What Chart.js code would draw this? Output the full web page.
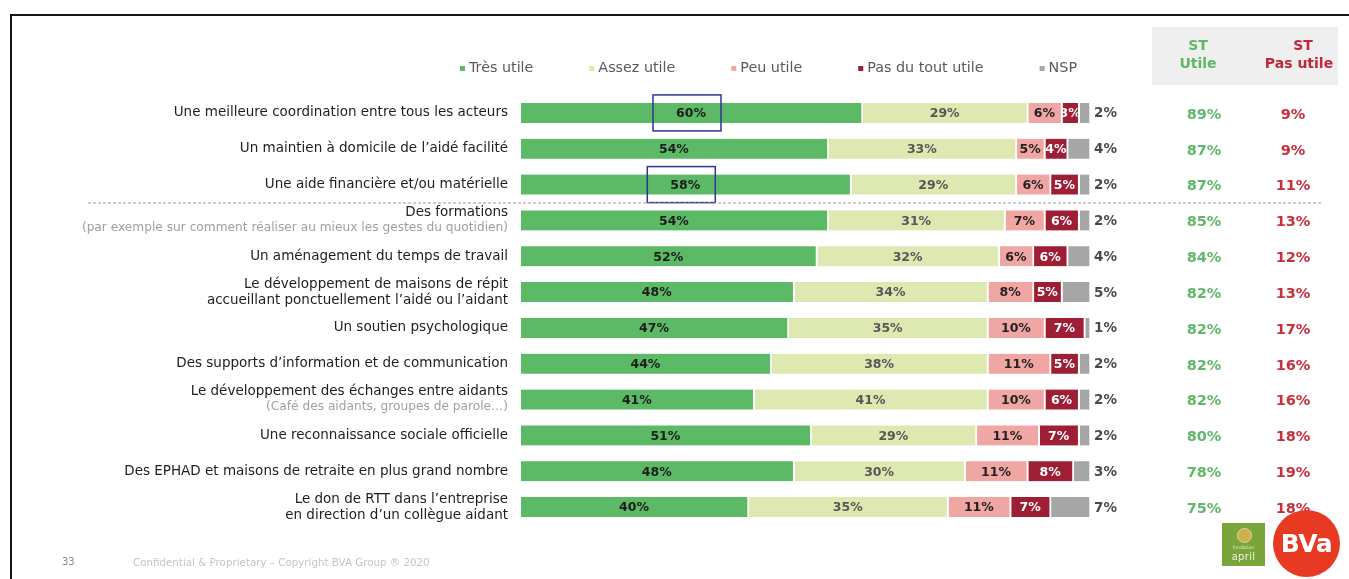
<!DOCTYPE html>
<html>
<head>
<meta charset="utf-8">
<script src="https://cdn.jsdelivr.net/npm/chart.js@4.4.1/dist/chart.umd.min.js"></script>
<style>
html,body{margin:0;padding:0;background:#fff;overflow:hidden;font-family:"DejaVu Sans",Verdana,sans-serif}
#wrap{position:relative;width:1349px;height:579px;overflow:hidden}
#frame{position:absolute;left:10px;top:14px;width:1400px;height:600px;border-top:2px solid #161616;border-left:2px solid #161616}
#c{position:absolute;left:0;top:0}
#pageno{position:absolute;left:62px;top:556px;font-size:10px;color:#8a8a8a}
#copy{position:absolute;left:133px;top:556px;font-size:10.3px;color:#c4c4c4}
#april{position:absolute;left:1222px;top:523px;width:43px;height:43px;background:#7aa53a;color:#e8f0d0;text-align:center}
#april .emb{position:absolute;left:15px;top:5px;width:13px;height:13px;border-radius:50%;background:#c9b24a;border:1px solid #e2d79a}
#april .f{position:absolute;left:0;width:43px;top:22px;font-size:4.5px;color:#dfe9c8}
#april .a{position:absolute;left:0;width:43px;top:28px;font-size:10px;color:#eef4de;letter-spacing:0.3px}
#bva{position:absolute;left:1273px;top:510px;width:67px;height:67px;border-radius:50%;background:#e83a22;color:#fff;font-weight:bold;font-size:25px;line-height:67px;text-align:center;letter-spacing:-0.5px}
</style>
</head>
<body>
<div id="wrap">
  <div id="frame"></div>
  <canvas id="c" width="1349" height="579"></canvas>
  <div id="pageno">33</div>
  <div id="copy">Confidential &amp; Proprietary – Copyright BVA Group ® 2020</div>
  <div id="april"><div class="emb"></div><div class="f">fondation</div><div class="a">april</div></div>
  <div id="bva">BVa</div>
</div>
<script>
// ---------- DATA ----------
const categories = [
  "Une meilleure coordination entre tous les acteurs",
  "Un maintien à domicile de l’aidé facilité",
  "Une aide financière et/ou matérielle",
  "Des formations",
  "Un aménagement du temps de travail",
  ["Le développement de maisons de répit", "accueillant ponctuellement l’aidé ou l’aidant"],
  "Un soutien psychologique",
  "Des supports d’information et de communication",
  "Le développement des échanges entre aidants",
  "Une reconnaissance sociale officielle",
  "Des EPHAD et maisons de retraite en plus grand nombre",
  ["Le don de RTT dans l’entreprise", "en direction d’un collègue aidant"]
];
const subLabels = [
  "", "", "",
  "(par exemple sur comment réaliser au mieux les gestes du quotidien)",
  "", "", "", "",
  "(Café des aidants, groupes de parole…)",
  "", "", ""
];
const seriesNames = ["Très utile", "Assez utile", "Peu utile", "Pas du tout utile", "NSP"];
const tresUtile     = [60, 54, 58, 54, 52, 48, 47, 44, 41, 51, 48, 40];
const assezUtile    = [29, 33, 29, 31, 32, 34, 35, 38, 41, 29, 30, 35];
const peuUtile      = [6, 5, 6, 7, 6, 8, 10, 11, 10, 11, 11, 11];
const pasDuToutUtile= [3, 4, 5, 6, 6, 5, 7, 5, 6, 7, 8, 7];
const nsp           = [2, 4, 2, 2, 4, 5, 1, 2, 2, 2, 3, 7];
const stUtile       = [89, 87, 87, 85, 84, 82, 82, 82, 82, 80, 78, 75];
const stPasUtile    = [9, 9, 11, 13, 12, 13, 17, 16, 16, 18, 19, 18];
const highlighted   = [0, 2];   // rows whose "Très utile" value is boxed
const separatorAfter = 2;        // dashed line after this row

// ---------- STYLE ----------
const colors = ["#5cba66", "#dde9b1", "#f0a7a4", "#9e1f35", "#a6a6a6"];
const labelColors = ["#1c1c1c", "#575757", "#222222", "#ffffff", "#4a4a4a"];
const FONT = '"DejaVu Sans", Verdana, sans-serif';

const seriesValues = [tresUtile, assezUtile, peuUtile, pasDuToutUtile, nsp];

const datasets = seriesValues.map((vals, i) => ({
  label: seriesNames[i],
  data: vals,
  backgroundColor: colors[i],
  borderColor: "#ffffff",
  borderWidth: {left: 0, top: 0, bottom: 0, right: 2},
  borderSkipped: false,
  barThickness: 20
}));

const decorPlugin = {
  id: "decor",
  afterDatasetsDraw(chart) {
    const ctx = chart.ctx;
    const ca = chart.chartArea;
    const xs = chart.scales.x, ys = chart.scales.y;
    ctx.save();

    // --- data labels ---
    chart.data.datasets.forEach((ds, di) => {
      const meta = chart.getDatasetMeta(di);
      meta.data.forEach((el, idx) => {
        const p = el.getProps(["x", "base", "y", "height"], true);
        const v = ds.data[idx];
        const txt = v + "%";
        if (di < 4) {
          const l = Math.min(p.x, p.base), r = Math.max(p.x, p.base);
          ctx.save();
          ctx.beginPath();
          ctx.rect(l, p.y - p.height / 2, r - l - 2, p.height);
          ctx.clip();
          ctx.font = "bold 12.5px " + FONT;
          ctx.fillStyle = labelColors[di];
          ctx.textAlign = "center";
          ctx.textBaseline = "middle";
          ctx.fillText(txt, (l + r - 2) / 2, p.y + 1);
          ctx.restore();
        } else {
          ctx.font = "bold 13.5px " + FONT;
          ctx.fillStyle = labelColors[di];
          ctx.textAlign = "left";
          ctx.textBaseline = "middle";
          ctx.fillText(txt, xs.getPixelForValue(100) + 3, p.y + 1);
        }
      });
    });

    // --- highlight boxes ---
    const m0 = chart.getDatasetMeta(0);
    highlighted.forEach(idx => {
      const p = m0.data[idx].getProps(["x", "base", "y"], true);
      const cx = (p.x + p.base) / 2;
      ctx.strokeStyle = "#2f3594";
      ctx.lineWidth = 1.5;
      ctx.strokeRect(cx - 39, p.y - 18, 68, 36);
    });

    // --- category labels ---
    ctx.textAlign = "right";
    ctx.textBaseline = "middle";
    chart.data.labels.forEach((lab, idx) => {
      const y = ys.getPixelForValue(idx);
      const x = ca.left - 13;
      const lines = Array.isArray(lab) ? lab : [lab];
      const sub = subLabels[idx];
      if (lines.length === 1 && !sub) {
        ctx.font = "13.5px " + FONT;
        ctx.fillStyle = "#1e1e1e";
        ctx.fillText(lines[0], x, y);
      } else if (lines.length === 2) {
        ctx.font = "13.5px " + FONT;
        ctx.fillStyle = "#1e1e1e";
        ctx.fillText(lines[0], x, y - 8);
        ctx.fillText(lines[1], x, y + 8);
      } else {
        ctx.font = "13.5px " + FONT;
        ctx.fillStyle = "#1e1e1e";
        ctx.fillText(lines[0], x, y - 8);
        ctx.font = "12.2px " + FONT;
        ctx.fillStyle = "#a0a0a0";
        ctx.fillText(sub, x, y + 7.5);
      }
    });

    // --- dashed separator ---
    const ySep = (ys.getPixelForValue(separatorAfter) + ys.getPixelForValue(separatorAfter + 1)) / 2;
    ctx.strokeStyle = "#9a9a9a";
    ctx.lineWidth = 1;
    ctx.setLineDash([3, 2]);
    ctx.beginPath();
    ctx.moveTo(88, ySep + 0.5);
    ctx.lineTo(1322, ySep + 0.5);
    ctx.stroke();
    ctx.setLineDash([]);

    // --- right summary columns ---
    const colU = ca.right + 113, colP = ca.right + 202;
    ctx.fillStyle = "#efefef";
    ctx.fillRect(ca.right + 61, 27, 186, 58);
    ctx.textAlign = "center";
    ctx.font = "bold 14px " + FONT;
    ctx.fillStyle = "#5cb865";
    ctx.fillText("ST", colU - 6, 46);
    ctx.fillText("Utile", colU - 6, 64);
    ctx.fillStyle = "#c0283a";
    ctx.fillText("ST", colP + 10, 46);
    ctx.fillText("Pas utile", colP + 6, 64);
    ctx.font = "bold 14.5px " + FONT;
    stUtile.forEach((v, idx) => {
      const y = ys.getPixelForValue(idx) + 2;
      ctx.fillStyle = "#62b86b";
      ctx.fillText(v + "%", colU, y);
      ctx.fillStyle = "#c8303c";
      ctx.fillText(stPasUtile[idx] + "%", colP, y);
    });

    // --- legend ---
    ctx.font = "14.3px " + FONT;
    ctx.textBaseline = "middle";
    ctx.textAlign = "left";
    const gap = 56, mk = 5, mkGap = 4;
    const widths = seriesNames.map(n => ctx.measureText(n).width);
    const total = widths.reduce((a, b) => a + b, 0) + seriesNames.length * (mk + mkGap) + gap * (seriesNames.length - 1);
    let lx = ca.right - 14 - total;
    const ly = 68;
    seriesNames.forEach((n, i) => {
      ctx.fillStyle = colors[i];
      ctx.fillRect(lx, ly - 2, mk, mk);
      lx += mk + mkGap;
      ctx.fillStyle = "#5a5a5a";
      ctx.fillText(n, lx, ly);
      lx += widths[i] + gap;
    });

    ctx.restore();
  }
};

new Chart(document.getElementById("c"), {
  type: "bar",
  data: { labels: categories, datasets: datasets },
  options: {
    indexAxis: "y",
    responsive: false,
    animation: false,
    layout: { padding: { left: 521, right: 258, top: 95, bottom: 54 } },
    plugins: { legend: { display: false }, tooltip: { enabled: false } },
    scales: {
      x: { stacked: true, min: 0, max: 100, display: false },
      y: { stacked: true, display: false }
    }
  },
  plugins: [decorPlugin]
});
</script>
</body>
</html>
